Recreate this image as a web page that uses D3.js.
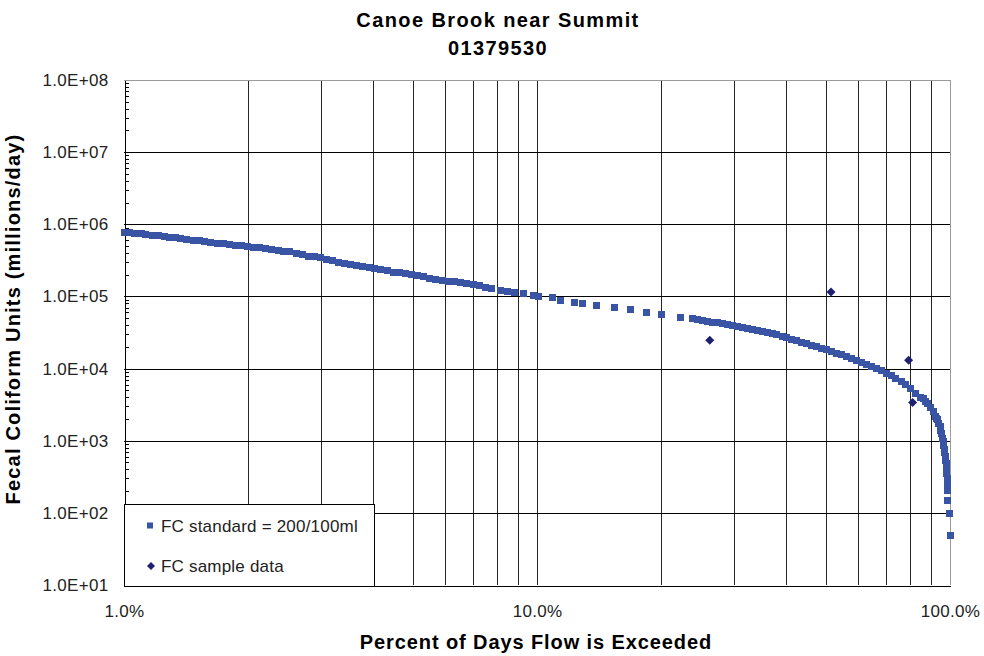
<!DOCTYPE html>
<html>
<head>
<meta charset="utf-8">
<script src="https://cdn.jsdelivr.net/npm/d3@7"></script>
<style>
  html, body { margin: 0; padding: 0; background: #fff; }
  svg { display: block; font-family: "Liberation Sans", Arial, sans-serif; }
</style>
</head>
<body>
<svg id="chart" width="984" height="656"></svg>
<script>
// Chart text
const titleLines = ["Canoe Brook near Summit", "01379530"];
const xTitle = "Percent of Days Flow is Exceeded";
const yTitle = "Fecal Coliform Units (millions/day)";
const seriesNames = ["FC standard = 200/100ml", "FC sample data"];

// Tick values
const xTicks = [1, 10, 100];
const yTicks = [1e1, 1e2, 1e3, 1e4, 1e5, 1e6, 1e7, 1e8];

// Load duration curve at the FC standard: percent of days exceeded, load (millions/day)
const curvePct = [
  1.00, 1.03, 1.06, 1.10, 1.13, 1.17, 1.21, 1.25, 1.29, 1.33, 1.37, 1.42, 1.47, 1.52, 1.57,
  1.62, 1.68, 1.74, 1.80, 1.86, 1.92, 1.99, 2.06, 2.13, 2.20, 2.28, 2.36, 2.44, 2.52, 2.61,
  2.70, 2.79, 2.89, 2.99, 3.09, 3.20, 3.31, 3.42, 3.54, 3.66, 3.79, 3.92, 4.05, 4.19, 4.34,
  4.49, 4.64, 4.80, 4.97, 5.14, 5.32, 5.50, 5.69, 5.89, 6.09, 6.30, 6.52, 6.74,
  7.01, 7.24, 7.52, 7.74, 8.18, 8.46, 8.84, 9.30, 9.78, 10.1, 10.9, 11.4, 12.3, 12.9, 13.95,
  15.4, 16.8, 18.4, 20.0, 22.3,
  23.8, 24.5, 25.2, 25.9, 26.6, 27.3, 28.1, 28.9, 29.7, 30.5, 31.4, 32.3, 33.2, 34.1, 35.1,
  36.1, 37.1, 38.1, 39.2, 40.3, 41.4, 42.6, 43.8, 45.0, 46.3, 47.6, 48.9, 50.3, 51.7, 53.1,
  54.6, 56.1, 57.7, 59.3, 61.0, 62.7, 64.5, 66.3, 68.1, 70.0, 72.0, 74.0, 76.1, 78.2, 80.4,
  82.7, 85.0, 86.2, 87.4, 88.4, 89.8, 91.1, 92.3, 92.9, 93.3, 94.0, 94.6, 95.1, 95.6, 96.0,
  96.3, 96.6, 96.9, 97.1, 97.3, 97.6, 97.8, 98.0, 98.2, 98.25, 98.35, 98.45, 98.55, 98.6,
  98.7, 99.45, 100.0
];
const curveLoad = [
  7.8e5, 7.65e5, 7.5e5, 7.35e5, 7.2e5, 7.05e5, 6.9e5, 6.75e5, 6.6e5, 6.5e5, 6.35e5, 6.2e5, 6.05e5, 5.9e5, 5.75e5,
  5.6e5, 5.5e5, 5.38e5, 5.27e5, 5.16e5, 5.05e5, 4.92e5, 4.8e5, 4.7e5, 4.6e5, 4.5e5, 4.38e5, 4.25e5, 4.13e5, 3.97e5,
  3.78e5, 3.61e5, 3.52e5, 3.42e5, 3.27e5, 3.1e5, 3.0e5, 2.9e5, 2.8e5, 2.7e5, 2.6e5, 2.5e5, 2.41e5, 2.34e5, 2.26e5,
  2.18e5, 2.12e5, 2.05e5, 1.99e5, 1.93e5, 1.86e5, 1.80e5, 1.74e5, 1.68e5, 1.63e5, 1.59e5, 1.55e5, 1.51e5,
  1.47e5, 1.42e5, 1.35e5, 1.29e5, 1.20e5, 1.18e5, 1.13e5, 1.09e5, 1.04e5, 1.00e5, 9.73e4, 8.92e4, 8.29e4, 8.03e4, 7.44e4,
  6.98e4, 6.49e4, 6.08e4, 5.53e4, 5.07e4,
  4.94e4, 4.80e4, 4.67e4, 4.52e4, 4.40e4, 4.29e4, 4.15e4, 4.03e4, 3.92e4, 3.83e4, 3.72e4, 3.61e4, 3.50e4, 3.39e4, 3.27e4,
  3.15e4, 3.03e4, 2.92e4, 2.80e4, 2.66e4, 2.55e4, 2.43e4, 2.32e4, 2.21e4, 2.11e4, 2.01e4, 1.92e4, 1.83e4, 1.73e4, 1.64e4,
  1.55e4, 1.46e4, 1.37e4, 1.29e4, 1.21e4, 1.15e4, 1.08e4, 1.01e4, 9.4e3, 8.65e3, 7.95e3, 7.3e3, 6.65e3, 6.05e3, 5.3e3,
  4.5e3, 4.03e3, 3.85e3, 3.49e3, 3.23e3, 2.88e3, 2.58e3, 2.2e3, 2.06e3, 1.95e3, 1.73e3, 1.56e3, 1.40e3, 1.24e3, 1.09e3,
  968, 860, 767, 680, 600, 540, 483, 435, 393, 350, 300, 255, 225, 207,
  147, 98.6, 49.3
];

// Observed fecal coliform sample loads
const samplePct = [26.2, 51.5, 79.4, 81.2];
const sampleLoad = [2.47e4, 1.15e5, 1.30e4, 3.39e3];

// Layout and styling
const plot = { left: 124, right: 950, top: 80, bottom: 585 };
const curveColor = "#3953a5";
const sampleColor = "#1f2070";

const svg = d3.select("#chart");

const x = d3.scaleLog().domain([1, 100]).range([plot.left, plot.right]);
const y = d3.scaleLog().domain([1e1, 1e8]).range([plot.bottom, plot.top]);

// Minor values for grids / ticks (2..9 within each decade)
const minorX = [];
[1, 10].forEach(d => { for (let m = 2; m <= 9; m++) minorX.push(d * m); });
const minorY = [];
for (let e = 1; e < 8; e++) for (let m = 2; m <= 9; m++) minorY.push(m * Math.pow(10, e));

const grid = svg.append("g").attr("shape-rendering", "crispEdges");

// Vertical grid lines at 2..9%, 10% and 20..90%
grid.selectAll("line.vx")
  .data(minorX.concat([10]))
  .join("line")
  .attr("x1", d => Math.round(x(d)) + 0.5).attr("x2", d => Math.round(x(d)) + 0.5)
  .attr("y1", plot.top).attr("y2", plot.bottom)
  .attr("stroke", "#262626").attr("stroke-width", 1);

// Horizontal grid lines at each decade
grid.selectAll("line.hy")
  .data(yTicks.filter(d => d > 1e1 && d < 1e8))
  .join("line")
  .attr("x1", plot.left).attr("x2", plot.right)
  .attr("y1", d => Math.round(y(d)) + 0.5).attr("y2", d => Math.round(y(d)) + 0.5)
  .attr("stroke", "#000").attr("stroke-width", 1);

// Plot area border (top and right)
grid.append("line")
  .attr("x1", plot.left).attr("x2", plot.right + 0.5)
  .attr("y1", plot.top + 0.5).attr("y2", plot.top + 0.5)
  .attr("stroke", "#9a9a9a");
grid.append("line")
  .attr("x1", plot.right + 0.5).attr("x2", plot.right + 0.5)
  .attr("y1", plot.top).attr("y2", plot.bottom)
  .attr("stroke", "#9a9a9a");

// Y axis with inner minor ticks
const yAxis = d3.axisLeft(y)
  .tickValues(yTicks)
  .tickSize(0)
  .tickFormat(d => "1.0E+" + String(Math.round(Math.log10(d))).padStart(2, "0"));
const gy = svg.append("g")
  .attr("transform", `translate(${plot.left + 0.5},0)`)
  .call(yAxis);
gy.select(".domain").attr("stroke", "#000").attr("shape-rendering", "crispEdges");
gy.selectAll("text")
  .attr("font-size", 17).attr("fill", "#222")
  .attr("letter-spacing", "0.3px")
  .attr("x", -16);
gy.selectAll("line.minor")
  .data(minorY)
  .join("line")
  .attr("class", "minor")
  .attr("x1", 0).attr("x2", 4)
  .attr("y1", d => Math.round(y(d)) + 0.5).attr("y2", d => Math.round(y(d)) + 0.5)
  .attr("stroke", "#000").attr("shape-rendering", "crispEdges");

// X axis
const xAxis = d3.axisBottom(x)
  .tickValues(xTicks)
  .tickSize(0)
  .tickPadding(19)
  .tickFormat(d => d3.format(".1f")(d) + "%");
const gx = svg.append("g")
  .attr("transform", `translate(0,${plot.bottom + 0.5})`)
  .call(xAxis);
gx.select(".domain").attr("stroke", "#000").attr("shape-rendering", "crispEdges");
gx.selectAll("text")
  .attr("font-size", 17).attr("fill", "#222")
  .attr("letter-spacing", "0.3px");

// Load duration curve (square markers, snapped to whole pixels)
const sq = 7;
svg.append("g")
  .attr("shape-rendering", "crispEdges")
  .selectAll("rect")
  .data(curvePct.map((p, i) => ({ p, v: curveLoad[i] })))
  .join("rect")
  .attr("x", d => Math.round(x(d.p) - sq / 2))
  .attr("y", d => Math.round(y(d.v) - sq / 2))
  .attr("width", sq).attr("height", sq)
  .attr("fill", curveColor);

// Sample data (diamond markers)
const diamond = r => `M0,${-r}L${r},0L0,${r}L${-r},0Z`;
svg.append("g")
  .selectAll("path")
  .data(samplePct.map((p, i) => ({ p, v: sampleLoad[i] })))
  .join("path")
  .attr("transform", d => `translate(${x(d.p)},${y(d.v)})`)
  .attr("d", diamond(4.5))
  .attr("fill", sampleColor);

// Titles
svg.append("g")
  .selectAll("text")
  .data(titleLines)
  .join("text")
  .attr("x", 498).attr("y", (d, i) => 27 + i * 28)
  .attr("text-anchor", "middle")
  .attr("font-size", 20).attr("font-weight", "bold")
  .attr("letter-spacing", "1.4px")
  .attr("fill", "#000")
  .text(d => d);

svg.append("text")
  .attr("x", 536).attr("y", 649)
  .attr("text-anchor", "middle")
  .attr("font-size", 20).attr("font-weight", "bold")
  .attr("letter-spacing", "0.9px")
  .text(xTitle);

svg.append("text")
  .attr("transform", "translate(20,319) rotate(-90)")
  .attr("text-anchor", "middle")
  .attr("font-size", 20).attr("font-weight", "bold")
  .attr("letter-spacing", "1.2px")
  .text(yTitle);

// Legend
const legend = svg.append("g");
legend.append("rect")
  .attr("x", plot.left + 0.5).attr("y", 504.5)
  .attr("width", 250).attr("height", 82)
  .attr("fill", "#fff").attr("stroke", "#000")
  .attr("shape-rendering", "crispEdges");
legend.append("rect")
  .attr("x", 147).attr("y", 522.5).attr("width", 6).attr("height", 6)
  .attr("fill", curveColor);
legend.append("path")
  .attr("transform", "translate(151,566)")
  .attr("d", diamond(4))
  .attr("fill", sampleColor);
legend.selectAll("text")
  .data(seriesNames)
  .join("text")
  .attr("x", 161).attr("y", (d, i) => 531.5 + i * 40)
  .attr("font-size", 17).attr("fill", "#222")
  .attr("letter-spacing", "0.2px")
  .text(d => d);
</script>
</body>
</html>
